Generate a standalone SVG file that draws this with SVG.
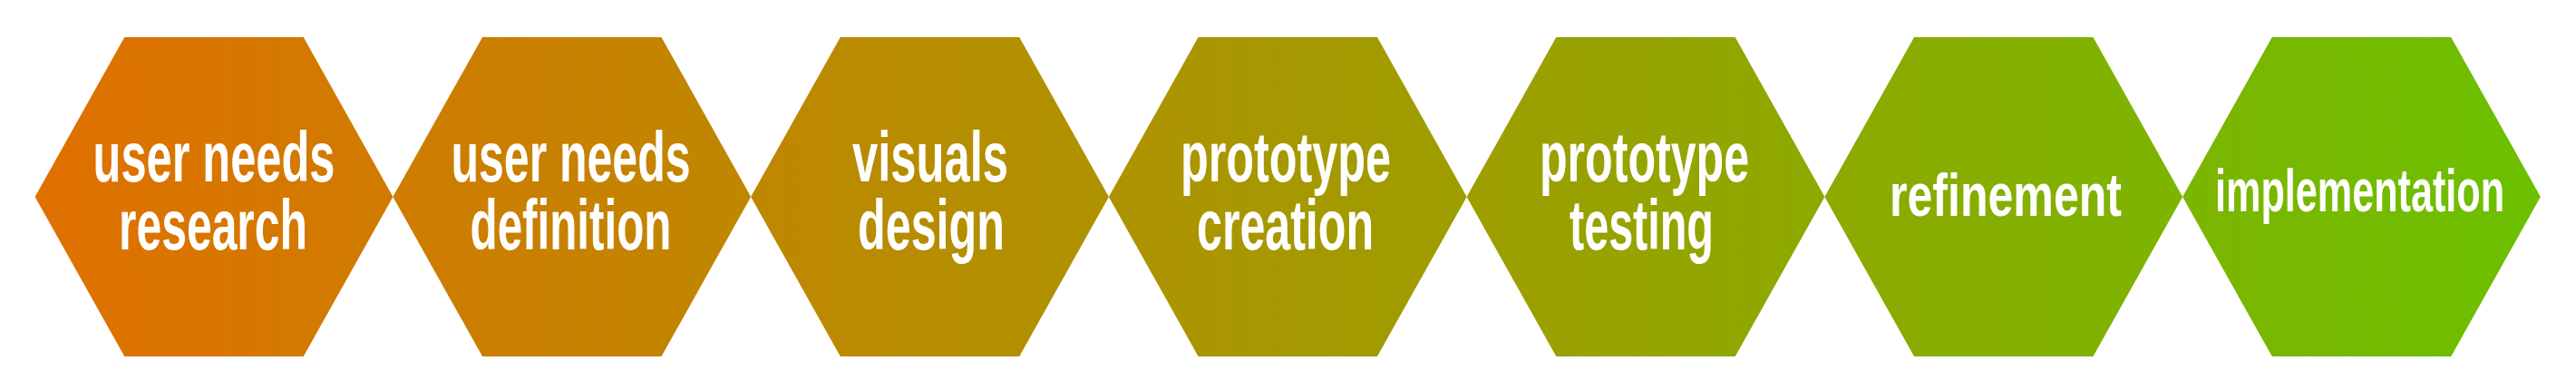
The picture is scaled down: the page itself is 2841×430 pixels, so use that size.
<svg xmlns="http://www.w3.org/2000/svg" width="2841" height="430" viewBox="0 0 2841 430">
  <defs>
    <linearGradient id="grad" gradientUnits="userSpaceOnUse" x1="39" y1="0" x2="2802" y2="0">
      <stop offset="0" stop-color="#e07000"/>
      <stop offset="1" stop-color="#6cc000"/>
    </linearGradient>
  </defs>
  <style>
    .hex { fill: url(#grad); }
    .lbl { fill: #ffffff; font-family: "Liberation Sans", Arial, sans-serif; font-weight: bold; text-anchor: middle; }
    .two { font-size: 77px; }
    .one { font-size: 67px; }
  </style>
  <rect width="2841" height="430" fill="#ffffff"/>
  <g id="connectors"/>
  <g id="node1">
    <polygon class="hex" points="38.6,217 137.3,41 334.7,41 433.4,217 334.7,393 137.3,393"/>
    <text class="lbl two" x="236" y="200" textLength="267" lengthAdjust="spacingAndGlyphs">user needs</text>
    <text class="lbl two" x="235" y="275" textLength="208" lengthAdjust="spacingAndGlyphs">research</text>
  </g>
  <g id="node2">
    <polygon class="hex" points="433.35,217 532.05,41 729.45,41 828.15,217 729.45,393 532.05,393"/>
    <text class="lbl two" x="629.5" y="200" textLength="264" lengthAdjust="spacingAndGlyphs">user needs</text>
    <text class="lbl two" x="629.5" y="275" textLength="222" lengthAdjust="spacingAndGlyphs">definition</text>
  </g>
  <g id="node3">
    <polygon class="hex" points="828.1,217 926.8,41 1124.2,41 1222.9,217 1124.2,393 926.8,393"/>
    <text class="lbl two" x="1026" y="200" textLength="172" lengthAdjust="spacingAndGlyphs">visuals</text>
    <text class="lbl two" x="1027" y="275" textLength="162" lengthAdjust="spacingAndGlyphs">design</text>
  </g>
  <g id="node4">
    <polygon class="hex" points="1222.85,217 1321.55,41 1518.95,41 1617.65,217 1518.95,393 1321.55,393"/>
    <text class="lbl two" x="1418" y="200" textLength="232" lengthAdjust="spacingAndGlyphs">prototype</text>
    <text class="lbl two" x="1417.5" y="275" textLength="195" lengthAdjust="spacingAndGlyphs">creation</text>
  </g>
  <g id="node5">
    <polygon class="hex" points="1617.6,217 1716.3,41 1913.7,41 2012.4,217 1913.7,393 1716.3,393"/>
    <text class="lbl two" x="1813.5" y="200" textLength="231" lengthAdjust="spacingAndGlyphs">prototype</text>
    <text class="lbl two" x="1810.5" y="275" textLength="159" lengthAdjust="spacingAndGlyphs">testing</text>
  </g>
  <g id="node6">
    <polygon class="hex" points="2012.35,217 2111.05,41 2308.45,41 2407.15,217 2308.45,393 2111.05,393"/>
    <text class="lbl one" x="2212" y="238" textLength="256" lengthAdjust="spacingAndGlyphs">refinement</text>
  </g>
  <g id="node7">
    <polygon class="hex" points="2407.1,217 2505.8,41 2703.2,41 2801.9,217 2703.2,393 2505.8,393"/>
    <text class="lbl one" x="2602.5" y="233" textLength="319" lengthAdjust="spacingAndGlyphs">implementation</text>
  </g>
</svg>
